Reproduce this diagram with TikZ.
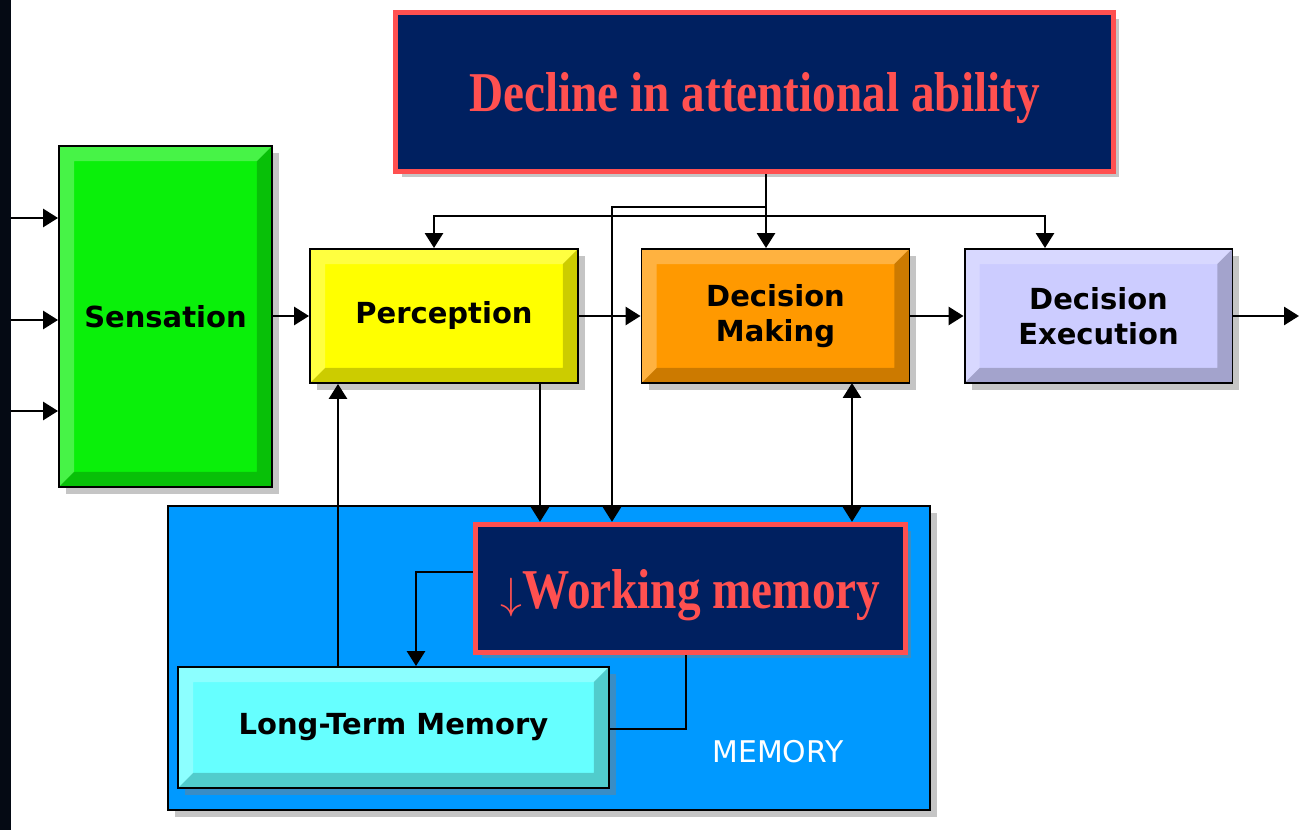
\documentclass[tikz,border=0pt]{standalone}
\usepackage{fontspec}
\usetikzlibrary{arrows.meta, shadows}
\newfontfamily\blockfont{DejaVu Sans}
\newfontfamily\notefont[FakeStretch=0.84]{Liberation Serif}
\definecolor{sensgreen}{RGB}{10,240,10}
\definecolor{percyellow}{RGB}{255,255,0}
\definecolor{dmorange}{RGB}{255,153,0}
\definecolor{exlavender}{RGB}{204,204,255}
\definecolor{memblue}{RGB}{0,153,255}
\definecolor{ltmcyan}{RGB}{102,255,255}
\definecolor{navy}{RGB}{0,32,96}
\definecolor{notered}{RGB}{255,80,80}
\definecolor{stripblack}{RGB}{5,10,20}

\begin{document}
\begin{tikzpicture}[
    x=0.02cm, y=-0.02cm,
    >={Triangle[length=0.3cm,width=0.36cm]},
    line width=1.6pt,
    bevel/.style={path picture={
        \coordinate (bnw) at (path picture bounding box.north west);
        \coordinate (bse) at (path picture bounding box.south east);
        \coordinate (bne) at (bse |- bnw);
        \coordinate (bsw) at (bnw |- bse);
        \fill[white, opacity=0.25] (bnw) -- (bne) -- ([shift={(-0.3cm,-0.3cm)}]bne)
            -- ([shift={(0.3cm,-0.3cm)}]bnw) -- ([shift={(0.3cm,0.3cm)}]bsw) -- (bsw) -- cycle;
        \fill[black, opacity=0.2] (bse) -- (bne) -- ([shift={(-0.3cm,-0.3cm)}]bne)
            -- ([shift={(-0.3cm,0.3cm)}]bse) -- ([shift={(0.3cm,0.3cm)}]bsw) -- (bsw) -- cycle;
    }},
    block/.style={draw=black, line width=1.1pt, bevel, inner sep=0pt, align=center,
        drop shadow={shadow xshift=0.14cm, shadow yshift=-0.14cm, opacity=0.45},
        font=\blockfont\bfseries\fontsize{16.5}{20}\selectfont},
    note/.style={draw=notered, line width=3pt, fill=navy, text=notered, inner sep=0pt,
        text depth=0pt,
        drop shadow={shadow xshift=0.12cm, shadow yshift=-0.12cm, opacity=0.45},
        font=\notefont\bfseries\fontsize{32}{38}\selectfont}
]
    % Page and left edge
    \useasboundingbox[fill=white] (0,0) rectangle (1299,830);
    \fill[stripblack] (0,0) rectangle (11,830);

    % Memory area
    \node[draw=black, line width=1.1pt, fill=memblue, minimum width=15.24cm, minimum height=6.08cm,
        drop shadow={shadow xshift=0.14cm, shadow yshift=-0.14cm, opacity=0.45}] (mem) at (549,658) {};
    \node[text=white, font=\blockfont\fontsize{17}{20}\selectfont] (memlbl) at (778,752) {MEMORY};
    \node[block, fill=ltmcyan, minimum width=8.62cm, minimum height=2.42cm] (ltm) at (393.5,727.5) {Long-Term Memory};
    \node[note, minimum width=8.6cm, minimum height=2.56cm] (wm) at (690.5,588.5) {$\downarrow$Working memory};

    % Processing stages
    \node[block, fill=sensgreen, minimum width=4.26cm, minimum height=6.82cm] (sens) at (165.5,316.5) {Sensation};
    \node[block, fill=percyellow, minimum width=5.36cm, minimum height=2.68cm] (perc) at (444,316) {Perception};
    \node[block, fill=dmorange, minimum width=5.36cm, minimum height=2.68cm] (dmak) at (775.5,316) {Decision\\Making};
    \node[block, fill=exlavender, minimum width=5.36cm, minimum height=2.68cm] (dexe) at (1098.5,316) {Decision\\Execution};

    % Attention
    \node[note, minimum width=14.36cm, minimum height=3.18cm] (attn) at (754.5,92) {Decline in attentional ability};

    % Inputs and output
    \foreach \y [count=\i] in {218,320,411} {
        \coordinate (in\i) at (11,\y);
        \draw[->] (in\i) -- (in\i -| sens.west);
    }
    \coordinate (out) at (1299,316);
    \draw[->] (sens.east |- perc.west) -- (perc.west);
    \draw[->] (perc) -- (dmak);
    \draw[->] (dmak) -- (dexe);
    \draw[->] (dexe) -- (out);

    % Attention lines
    \coordinate (fork) at (766,216);
    \coordinate (tp) at (434,216);
    \coordinate (te) at (1045,216);
    \coordinate (tw) at (612,207);
    \draw[->] (attn.south -| fork) -- (fork |- dmak.north);
    \draw[<->] (tp |- perc.north) -- (tp) -- (te) -- (te |- dexe.north);
    \draw[->] (fork |- tw) -- (tw) -- (tw |- wm.north);

    % Memory lines
    \coordinate (pdn) at (540,383);
    \coordinate (ddn) at (852,383);
    \coordinate (lup) at (338,667);
    \coordinate (wl) at (416,572);
    \coordinate (lr) at (686,729);
    \draw[->] (pdn) -- (pdn |- wm.north);
    \draw[<->] (ddn) -- (ddn |- wm.north);
    \draw[->] (lup) -- (lup |- perc.south);
    \draw[->] (wl -| wm.west) -- (wl) -- (wl |- ltm.north);
    \draw (ltm.east |- lr) -- (lr) -- (lr |- wm.south);
\end{tikzpicture}
\end{document}
